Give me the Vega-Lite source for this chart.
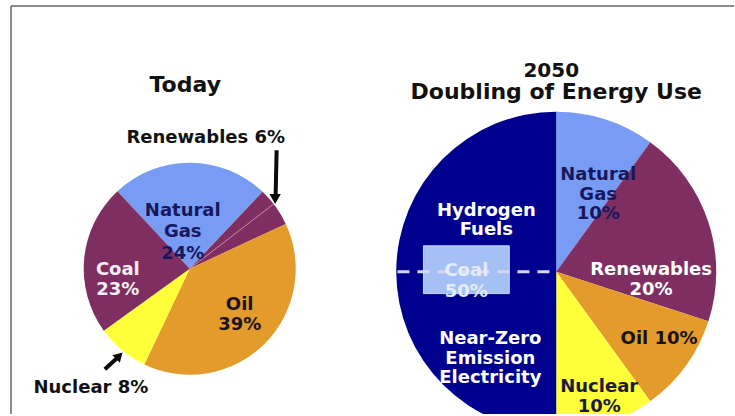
{
  "$schema": "https://vega.github.io/schema/vega-lite/v6.json",
  "width": 735,
  "height": 416,
  "autosize": {"type": "fit", "contains": "padding"},
  "padding": 0,
  "background": "#ffffff",
  "config": {
    "view": {"stroke": null},
    "axis": {"disable": true},
    "text": {"font": "DejaVu Sans", "fontWeight": "bold", "fontSize": 18}
  },
  "datasets": {
    "energy": [
      {"pie": "Today", "source": "Natural Gas", "share": 24, "rank": 1},
      {"pie": "Today", "source": "Renewables", "share": 6, "rank": 2},
      {"pie": "Today", "source": "Oil", "share": 39, "rank": 3},
      {"pie": "Today", "source": "Nuclear", "share": 8, "rank": 4},
      {"pie": "Today", "source": "Coal", "share": 23, "rank": 5},
      {"pie": "2050", "source": "Natural Gas", "share": 10, "rank": 1},
      {"pie": "2050", "source": "Renewables", "share": 20, "rank": 2},
      {"pie": "2050", "source": "Oil", "share": 10, "rank": 3},
      {"pie": "2050", "source": "Nuclear", "share": 10, "rank": 4},
      {"pie": "2050", "source": "Coal", "share": 50, "rank": 5}
    ]
  },
  "data": {"name": "energy"},
  "layer": [
    {
      "data": {"values": [{}]},
      "mark": {"type": "rule", "color": "#666666", "strokeWidth": 1.5},
      "encoding": {
        "x": {"datum": 11, "type": "quantitative", "axis": null, "scale": {"domain": [0, 735], "nice": false, "zero": false}},
        "x2": {"datum": 735},
        "y": {"datum": 6, "type": "quantitative", "axis": null, "scale": {"domain": [0, 416], "nice": false, "zero": false, "reverse": true}}
      }
    },
    {
      "data": {"values": [{}]},
      "mark": {"type": "rule", "color": "#666666", "strokeWidth": 1.5, "clip": true},
      "encoding": {
        "x": {"datum": 11, "type": "quantitative"},
        "y": {"datum": 6, "type": "quantitative"},
        "y2": {"datum": 416}
      }
    },
    {
      "transform": [{"filter": "datum.pie === 'Today'"}],
      "mark": {"type": "arc", "outerRadius": 106},
      "encoding": {
        "x": {"datum": 190, "type": "quantitative"},
        "y": {"datum": 270, "type": "quantitative"},
        "theta": {"field": "share", "type": "quantitative", "stack": true, "scale": {"range": [-0.7505, 5.5327]}},
        "order": {"field": "rank", "type": "quantitative"},
        "color": {
          "field": "source", "type": "nominal", "legend": null,
          "scale": {
            "domain": ["Natural Gas", "Renewables", "Oil", "Nuclear", "Coal"],
            "range": ["#789cf4", "#7f2e62", "#e39b2c", "#ffff3a", "#7f2e62"]
          }
        }
      }
    },
    {
      "transform": [{"filter": "datum.pie === '2050'"}],
      "mark": {"type": "arc", "outerRadius": 160, "clip": true},
      "encoding": {
        "x": {"datum": 557, "type": "quantitative"},
        "y": {"datum": 273, "type": "quantitative"},
        "theta": {"field": "share", "type": "quantitative", "stack": true, "scale": {"range": [0, 6.2832]}},
        "order": {"field": "rank", "type": "quantitative"},
        "color": {
          "field": "source", "type": "nominal", "legend": null,
          "scale": {
            "domain": ["Natural Gas", "Renewables", "Oil", "Nuclear", "Coal"],
            "range": ["#789cf4", "#7f2e62", "#e39b2c", "#ffff3a", "#00008e"]
          }
        }
      }
    },
    {
      "data": {"values": [{}]},
      "mark": {"type": "rule", "color": "#c38cb0", "strokeWidth": 1},
      "encoding": {
        "x": {"datum": 190, "type": "quantitative"},
        "y": {"datum": 270, "type": "quantitative"},
        "x2": {"datum": 274},
        "y2": {"datum": 205}
      }
    },
    {
      "data": {"values": [{}]},
      "mark": {"type": "rect", "fill": "#a4c0f4", "stroke": "#c6d7fa", "strokeWidth": 1},
      "encoding": {
        "x": {"datum": 424, "type": "quantitative"},
        "x2": {"datum": 510},
        "y": {"datum": 247, "type": "quantitative"},
        "y2": {"datum": 295}
      }
    },
    {
      "data": {"values": [{}]},
      "mark": {"type": "rule", "color": "#d8d8f2", "strokeWidth": 3, "strokeDash": [12, 8]},
      "encoding": {
        "x": {"datum": 398, "type": "quantitative"},
        "x2": {"datum": 557},
        "y": {"datum": 273, "type": "quantitative"}
      }
    },
    {
      "data": {"values": [{}]},
      "mark": {"type": "rule", "color": "#0a0a0a", "strokeWidth": 4},
      "encoding": {
        "x": {"datum": 277, "type": "quantitative"},
        "x2": {"datum": 276},
        "y": {"datum": 151, "type": "quantitative"},
        "y2": {"datum": 196}
      }
    },
    {
      "data": {"values": [{}]},
      "mark": {"type": "point", "shape": "triangle-down", "filled": true, "color": "#0a0a0a", "size": 130, "opacity": 1},
      "encoding": {
        "x": {"datum": 275.5, "type": "quantitative"},
        "y": {"datum": 200, "type": "quantitative"}
      }
    },
    {
      "data": {"values": [{}]},
      "mark": {"type": "rule", "color": "#0a0a0a", "strokeWidth": 4},
      "encoding": {
        "x": {"datum": 105, "type": "quantitative"},
        "x2": {"datum": 117},
        "y": {"datum": 371, "type": "quantitative"},
        "y2": {"datum": 360}
      }
    },
    {
      "data": {"values": [{}]},
      "mark": {"type": "point", "shape": "triangle-up", "angle": 45, "filled": true, "color": "#0a0a0a", "size": 110, "opacity": 1},
      "encoding": {
        "x": {"datum": 119.5, "type": "quantitative"},
        "y": {"datum": 357.5, "type": "quantitative"}
      }
    },
    {
      "data": {"values": [{}]},
      "mark": {"type": "text", "fontSize": 22, "color": "#111111", "baseline": "alphabetic"},
      "encoding": {
        "x": {"datum": 185.5, "type": "quantitative"},
        "y": {"datum": 92, "type": "quantitative"},
        "text": {"value": "Today"}
      }
    },
    {
      "data": {"values": [{}]},
      "mark": {"type": "text", "fontSize": 20, "color": "#111111", "baseline": "alphabetic"},
      "encoding": {
        "x": {"datum": 552, "type": "quantitative"},
        "y": {"datum": 77, "type": "quantitative"},
        "text": {"value": "2050"}
      }
    },
    {
      "data": {"values": [{}]},
      "mark": {"type": "text", "fontSize": 22, "color": "#111111", "baseline": "alphabetic"},
      "encoding": {
        "x": {"datum": 557, "type": "quantitative"},
        "y": {"datum": 99.5, "type": "quantitative"},
        "text": {"value": "Doubling of Energy Use"}
      }
    },
    {
      "transform": [{"filter": "datum.pie === 'Today' && datum.source === 'Renewables'"}],
      "mark": {"type": "text", "color": "#111111", "baseline": "middle"},
      "encoding": {
        "x": {"datum": 206, "type": "quantitative"},
        "y": {"datum": 139, "type": "quantitative"},
        "text": {"value": "Renewables 6%"}
      }
    },
    {
      "transform": [{"filter": "datum.pie === 'Today' && datum.source === 'Nuclear'"}],
      "mark": {"type": "text", "color": "#111111", "baseline": "middle"},
      "encoding": {
        "x": {"datum": 91, "type": "quantitative"},
        "y": {"datum": 390, "type": "quantitative"},
        "text": {"value": "Nuclear 8%"}
      }
    },
    {
      "transform": [{"filter": "datum.pie === 'Today' && datum.source === 'Natural Gas'"}],
      "mark": {"type": "text", "color": "#17175e", "baseline": "middle", "lineHeight": 21.5},
      "encoding": {
        "x": {"datum": 183, "type": "quantitative"},
        "y": {"datum": 212, "type": "quantitative"},
        "text": {"value": ["Natural", "Gas", "24%"]}
      }
    },
    {
      "transform": [{"filter": "datum.pie === 'Today' && datum.source === 'Coal'"}],
      "mark": {"type": "text", "color": "#f6eef4", "baseline": "middle", "lineHeight": 20},
      "encoding": {
        "x": {"datum": 118, "type": "quantitative"},
        "y": {"datum": 271, "type": "quantitative"},
        "text": {"value": ["Coal", "23%"]}
      }
    },
    {
      "transform": [{"filter": "datum.pie === 'Today' && datum.source === 'Oil'"}],
      "mark": {"type": "text", "color": "#1a1420", "baseline": "middle", "lineHeight": 20},
      "encoding": {
        "x": {"datum": 240, "type": "quantitative"},
        "y": {"datum": 306, "type": "quantitative"},
        "text": {"value": ["Oil", "39%"]}
      }
    },
    {
      "transform": [{"filter": "datum.pie === '2050' && datum.source === 'Natural Gas'"}],
      "mark": {"type": "text", "color": "#17175e", "baseline": "middle", "lineHeight": 19.5},
      "encoding": {
        "x": {"datum": 599, "type": "quantitative"},
        "y": {"datum": 176, "type": "quantitative"},
        "text": {"value": ["Natural", "Gas", "10%"]}
      }
    },
    {
      "transform": [{"filter": "datum.pie === '2050' && datum.source === 'Coal'"}],
      "mark": {"type": "text", "color": "#ffffff", "baseline": "middle", "lineHeight": 19.5},
      "encoding": {
        "x": {"datum": 487, "type": "quantitative"},
        "y": {"datum": 212, "type": "quantitative"},
        "text": {"value": ["Hydrogen", "Fuels"]}
      }
    },
    {
      "transform": [{"filter": "datum.pie === '2050' && datum.source === 'Coal'"}],
      "mark": {"type": "text", "color": "#e4ecfc", "baseline": "middle", "lineHeight": 21},
      "encoding": {
        "x": {"datum": 467, "type": "quantitative"},
        "y": {"datum": 272, "type": "quantitative"},
        "text": {"value": ["Coal", "50%"]}
      }
    },
    {
      "transform": [{"filter": "datum.pie === '2050' && datum.source === 'Coal'"}],
      "mark": {"type": "text", "color": "#ffffff", "baseline": "middle", "lineHeight": 19.5},
      "encoding": {
        "x": {"datum": 491, "type": "quantitative"},
        "y": {"datum": 341, "type": "quantitative"},
        "text": {"value": ["Near-Zero", "Emission", "Electricity"]}
      }
    },
    {
      "transform": [{"filter": "datum.pie === '2050' && datum.source === 'Renewables'"}],
      "mark": {"type": "text", "color": "#ffffff", "baseline": "middle", "lineHeight": 20},
      "encoding": {
        "x": {"datum": 652, "type": "quantitative"},
        "y": {"datum": 271, "type": "quantitative"},
        "text": {"value": ["Renewables", "20%"]}
      }
    },
    {
      "transform": [{"filter": "datum.pie === '2050' && datum.source === 'Oil'"}],
      "mark": {"type": "text", "color": "#1a1010", "baseline": "middle"},
      "encoding": {
        "x": {"datum": 660, "type": "quantitative"},
        "y": {"datum": 341, "type": "quantitative"},
        "text": {"value": "Oil 10%"}
      }
    },
    {
      "transform": [{"filter": "datum.pie === '2050' && datum.source === 'Nuclear'"}],
      "mark": {"type": "text", "color": "#1a1a40", "baseline": "middle", "lineHeight": 20},
      "encoding": {
        "x": {"datum": 600, "type": "quantitative"},
        "y": {"datum": 389, "type": "quantitative"},
        "text": {"value": ["Nuclear", "10%"]}
      }
    }
  ],
  "resolve": {"scale": {"theta": "independent", "color": "independent"}}
}
